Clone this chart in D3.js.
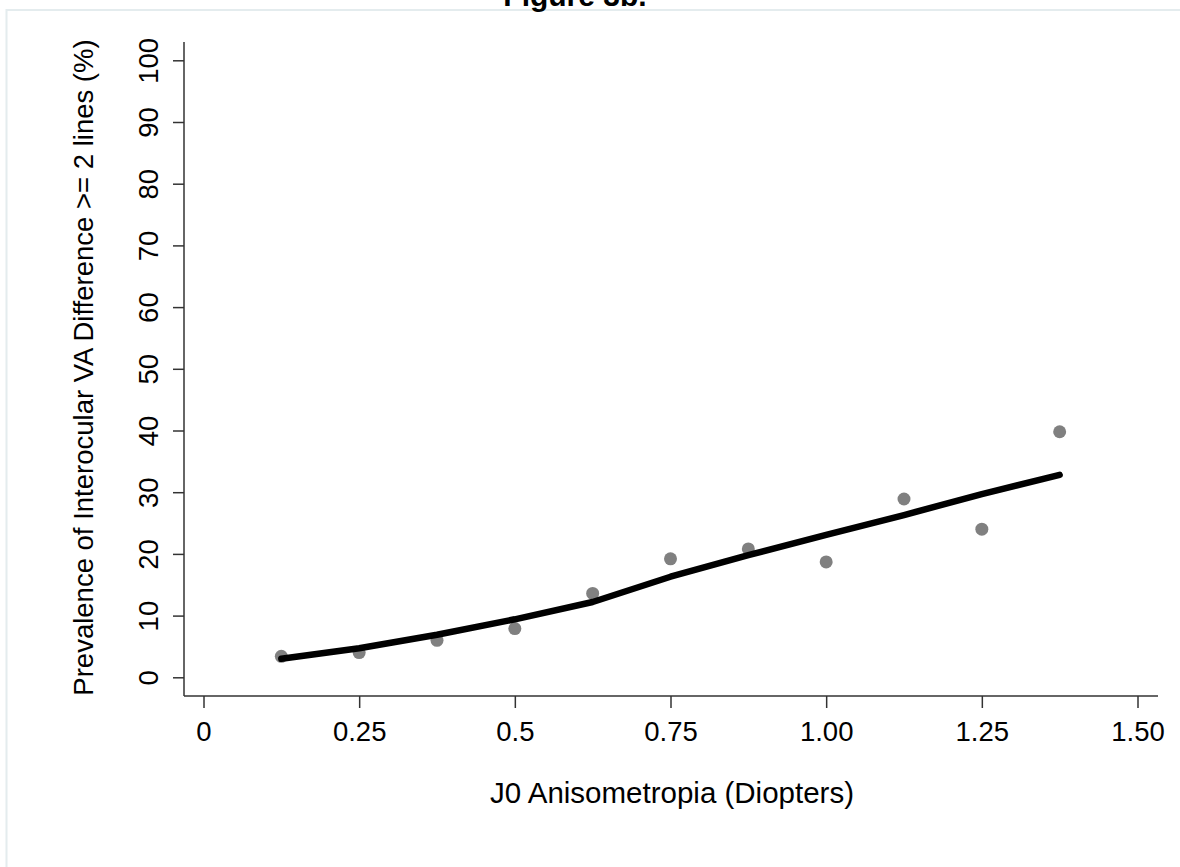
<!DOCTYPE html>
<html>
<head>
<meta charset="utf-8">
<script src="https://cdn.jsdelivr.net/npm/d3@7"></script>
<style>
  body { margin: 0; background: #fff; }
  text { font-family: "Liberation Sans", Arial, sans-serif; fill: #000; }
  .axis line { stroke: #333; stroke-width: 1.5; }
</style>
</head>
<body>
<svg width="1180" height="867"></svg>
<script>
// values
const anisometropia = [0.125, 0.25, 0.375, 0.5, 0.625, 0.75, 0.875, 1.0, 1.125, 1.25, 1.375];
const prevalence    = [3.4, 4.0, 6.0, 7.9, 13.6, 19.2, 20.8, 18.7, 28.9, 24.0, 39.8];
const fitted        = [3.0, 4.7, 6.9, 9.4, 12.2, 16.3, 19.8, 23.1, 26.3, 29.7, 32.8];

const xTicks = [0, 0.25, 0.5, 0.75, 1.0, 1.25, 1.5];
const xTickLabels = ["0", "0.25", "0.5", "0.75", "1.00", "1.25", "1.50"];
const yTicks = [0, 10, 20, 30, 40, 50, 60, 70, 80, 90, 100];

const svg = d3.select("svg");

// faint frame around the page
svg.append("rect")
    .attr("x", 6.5).attr("y", 10)
    .attr("width", 1200).attr("height", 900)
    .attr("fill", "none")
    .attr("stroke", "#e4ecee")
    .attr("stroke-width", 2);

// title, mostly cut off at the top (as in the original)
svg.append("text")
    .attr("x", 575).attr("y", 6)
    .attr("text-anchor", "middle")
    .style("font-size", "30px")
    .style("font-weight", "bold")
    .text("Figure 3b.");

const x = d3.scaleLinear().domain([0, 1.5]).range([203.5, 1137.5]),
    y = d3.scaleLinear().domain([0, 100]).range([677.3, 60.3]);

const axisX = 184, axisY = 696;

// x axis
const gx = svg.append("g")
    .attr("class", "axis")
    .attr("transform", `translate(0,${axisY})`)
    .call(d3.axisBottom(x).tickValues(xTicks)
        .tickFormat((d, i) => xTickLabels[i])
        .tickSize(12).tickPadding(13));
gx.select(".domain").remove();
gx.selectAll("text").style("font-size", "27.5px").attr("fill", "#000");
gx.append("line")
    .attr("x1", axisX).attr("x2", 1158)
    .attr("y1", 0).attr("y2", 0);

// y axis, labels rotated like the original
const gy = svg.append("g")
    .attr("class", "axis")
    .attr("transform", `translate(${axisX},0)`)
    .call(d3.axisLeft(y).tickValues(yTicks).tickSize(11));
gy.select(".domain").remove();
gy.selectAll(".tick text")
    .attr("transform", "rotate(-90)")
    .attr("x", 0).attr("y", -26).attr("dy", 0)
    .attr("text-anchor", "middle")
    .attr("fill", "#000")
    .style("font-size", "27.5px");
gy.append("line")
    .attr("x1", 0).attr("x2", 0)
    .attr("y1", 42).attr("y2", axisY);

// axis titles
svg.append("text")
    .attr("x", 672).attr("y", 803)
    .attr("text-anchor", "middle")
    .style("font-size", "29.5px")
    .text("J0 Anisometropia (Diopters)");

svg.append("text")
    .attr("transform", "translate(93,367.5) rotate(-90)")
    .attr("text-anchor", "middle")
    .style("font-size", "27.5px")
    .text("Prevalence of Interocular VA Difference >= 2 lines (%)");

// observed prevalence
svg.selectAll(".dot")
    .data(anisometropia)
    .enter().append("circle")
    .attr("class", "dot")
    .attr("cx", d => x(d))
    .attr("cy", (d, i) => y(prevalence[i]))
    .attr("r", 6.5)
    .attr("fill", "#808080");

// fitted curve
const line = d3.line()
    .x(d => x(d))
    .y((d, i) => y(fitted[i]));

svg.append("path")
    .datum(anisometropia)
    .attr("d", line)
    .attr("fill", "none")
    .attr("stroke", "#000")
    .attr("stroke-width", 6.5)
    .attr("stroke-linecap", "round")
    .attr("stroke-linejoin", "round");
</script>
</body>
</html>
